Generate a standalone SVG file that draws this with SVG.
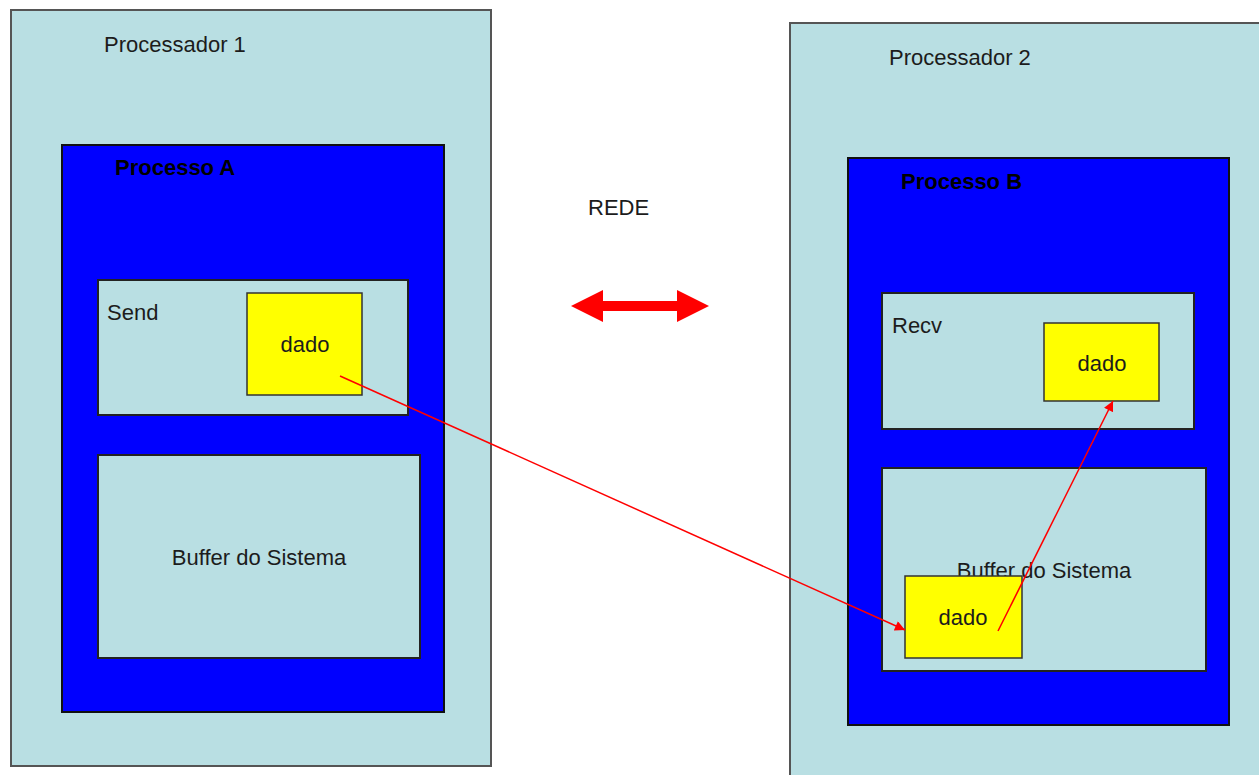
<svg xmlns="http://www.w3.org/2000/svg" width="1259" height="775" viewBox="0 0 1259 775">
  <style>
    text { font-family: "Liberation Sans", Arial, sans-serif; font-size: 22px; fill: #1c1c1c; }
    .proc { fill: #b9dfe3; stroke: #555; stroke-width: 2; }
    .task { fill: #0000ff; stroke: #111; stroke-width: 2; }
    .area { fill: #b9dfe3; stroke: #222; stroke-width: 2; }
    .data { fill: #ffff00; stroke: #333; stroke-width: 1.5; }
    .bold { font-weight: bold; fill: #000; }
    .mid { text-anchor: middle; }
    .link { stroke: #ff0000; stroke-width: 1.5; fill: none; marker-end: url(#tip); }
  </style>
  <defs>
    <marker id="tip" viewBox="0 0 10 10" refX="10" refY="5" markerWidth="11" markerHeight="10" markerUnits="userSpaceOnUse" orient="auto">
      <path d="M0,0 L10,5 L0,10 z" fill="#ff0000"/>
    </marker>
  </defs>
  <rect width="1259" height="775" fill="#fff"/>

  <g id="processador1">
    <rect class="proc" x="11" y="10" width="480" height="756"/>
    <text x="104" y="52">Processador 1</text>
  </g>
  <g id="processoA">
    <rect class="task" x="62" y="145" width="382" height="567"/>
    <text class="bold" x="115" y="175">Processo A</text>
  </g>
  <g id="send">
    <rect class="area" x="98" y="280" width="310" height="135"/>
    <text x="107" y="320">Send</text>
  </g>
  <g id="dadoA">
    <rect class="data" x="247" y="293" width="115" height="102"/>
    <text class="mid" x="305" y="352">dado</text>
  </g>
  <g id="bufferA">
    <rect class="area" x="98" y="455" width="322" height="203"/>
    <text class="mid" x="259" y="565">Buffer do Sistema</text>
  </g>

  <g id="rede">
    <text x="588" y="215">REDE</text>
    <path d="M571,306 L603,290 L603,301 L677,301 L677,290 L709,306 L677,322 L677,311 L603,311 L603,322 z" fill="#ff0000"/>
  </g>

  <g id="processador2">
    <rect class="proc" x="790" y="23" width="480" height="770"/>
    <text x="889" y="65">Processador 2</text>
  </g>
  <g id="processoB">
    <rect class="task" x="848" y="158" width="381" height="567"/>
    <text class="bold" x="901" y="189">Processo B</text>
  </g>
  <g id="recv">
    <rect class="area" x="882" y="293" width="312" height="136"/>
    <text x="892" y="333">Recv</text>
  </g>
  <g id="dadoRecv">
    <rect class="data" x="1044" y="323" width="115" height="78"/>
    <text class="mid" x="1102" y="371">dado</text>
  </g>
  <g id="bufferB">
    <rect class="area" x="882" y="468" width="324" height="203"/>
    <text class="mid" x="1044" y="578">Buffer do Sistema</text>
  </g>
  <g id="dadoBuffer">
    <rect class="data" x="905" y="576" width="117" height="82"/>
    <text class="mid" x="963" y="625">dado</text>
  </g>

  <g id="connectors">
    <line class="link" x1="340" y1="376" x2="905" y2="630"/>
    <line class="link" x1="998" y1="631" x2="1113" y2="401"/>
  </g>
</svg>
